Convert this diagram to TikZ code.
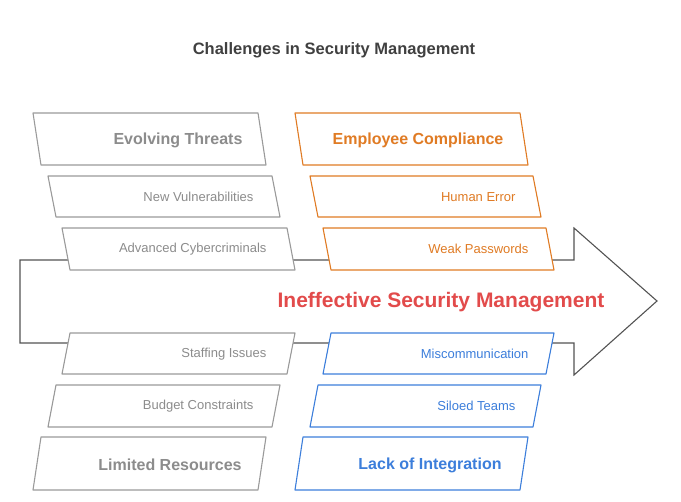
\documentclass[tikz,border=0pt]{standalone}
\usepackage{fontspec}
\setmainfont{Liberation Sans}
\definecolor{gr}{HTML}{8C8C8C}
\definecolor{grb}{HTML}{9A9A9A}
\definecolor{orn}{HTML}{E07B24}
\definecolor{blu}{HTML}{3C7EDB}
\definecolor{rd}{HTML}{E24B4B}
\definecolor{ttl}{HTML}{404040}
\begin{document}
\begin{tikzpicture}[x=1pt,y=-1pt,
  para/.style={fill=white,line width=1.1pt,line join=round},
  big/.style={font=\bfseries\fontsize{16}{18}\selectfont},
  small/.style={font=\fontsize{13}{15}\selectfont,anchor=east}]
\useasboundingbox (0,0) rectangle (681,502);
\node[font=\bfseries\fontsize{16.5}{19}\selectfont,text=ttl] (title) at (334,50) {Challenges in Security Management};
% arrow
\draw[line width=1.1pt,draw=ttl!90,line join=miter] (20,260) -- (574,260) -- (574,228) -- (657,301) -- (574,375) -- (574,343) -- (20,343) -- cycle;
\node[font=\bfseries\fontsize{21}{24}\selectfont,text=rd] (main) at (441,302) {Ineffective Security Management};
% gray top
\draw[para,draw=grb] (33,113) -- (258,113) -- (266,165) -- (41,165) -- cycle;
\node[big,text=gr] (a1) at (178,140) {Evolving Threats};
\draw[para,draw=grb] (48,176) -- (272,176) -- (280,217) -- (56,217) -- cycle;
\node[small,text=gr] (a2) at (257,197) {New Vulnerabilities};
\draw[para,draw=grb] (62,228) -- (287,228) -- (295,270) -- (70,270) -- cycle;
\node[small,text=gr] (a3) at (270,249) {Advanced Cybercriminals};
% gray bottom
\draw[para,draw=grb] (70,333) -- (295,333) -- (287,374) -- (62,374) -- cycle;
\node[small,text=gr] (b1) at (270,354) {Staffing Issues};
\draw[para,draw=grb] (56,385) -- (280,385) -- (272,427) -- (48,427) -- cycle;
\node[small,text=gr] (b2) at (257,406) {Budget Constraints};
\draw[para,draw=grb] (41,437) -- (266,437) -- (258,490) -- (33,490) -- cycle;
\node[big,text=gr] (b3) at (170,465) {Limited Resources};
% orange
\draw[para,draw=orn] (295,113) -- (520,113) -- (528,165) -- (303,165) -- cycle;
\node[big,text=orn] (c1) at (418,140) {Employee Compliance};
\draw[para,draw=orn] (310,176) -- (533,176) -- (541,217) -- (318,217) -- cycle;
\node[small,text=orn] (c2) at (519,197) {Human Error};
\draw[para,draw=orn] (323,228) -- (546,228) -- (554,270) -- (331,270) -- cycle;
\node[small,text=orn] (c3) at (532,249) {Weak Passwords};
% blue
\draw[para,draw=blu] (331,333) -- (554,333) -- (546,374) -- (323,374) -- cycle;
\node[small,text=blu] (d1) at (532,354) {Miscommunication};
\draw[para,draw=blu] (318,385) -- (541,385) -- (533,427) -- (310,427) -- cycle;
\node[small,text=blu] (d2) at (519,406) {Siloed Teams};
\draw[para,draw=blu] (303,437) -- (528,437) -- (520,490) -- (295,490) -- cycle;
\node[big,text=blu] (d3) at (430,465) {Lack of Integration};
\end{tikzpicture}
\end{document}
